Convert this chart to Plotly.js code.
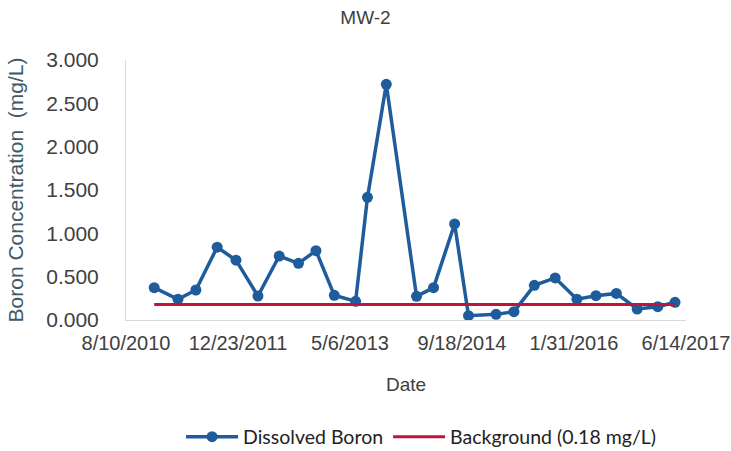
<!DOCTYPE html>
<html>
<head>
<meta charset="utf-8">
<script src="https://cdn.plot.ly/plotly-3.0.1.min.js"></script>
<style>html,body{margin:0;padding:0;background:#fff;}#chart{width:731px;height:451px;}</style>
</head>
<body>
<div id="chart"></div>
<script>
const sampleDates = ['2010-12-14','2011-03-30','2011-06-18','2011-09-21','2011-12-14','2012-03-21','2012-06-24','2012-09-18','2012-12-05','2013-02-25','2013-05-31','2013-07-23','2013-10-15','2014-02-27','2014-05-14','2014-08-16','2014-10-17','2015-02-17','2015-05-08','2015-08-07','2015-11-08','2016-02-13','2016-05-08','2016-08-07','2016-11-08','2017-02-08','2017-04-26'];
const dissolvedBoron = [0.373,0.24,0.346,0.84,0.69,0.277,0.738,0.654,0.80,0.285,0.215,1.415,2.72,0.273,0.373,1.108,0.05,0.065,0.096,0.40,0.485,0.24,0.28,0.307,0.127,0.154,0.204];
const backgroundDates = ['2010-12-14','2017-04-26'];
const backgroundValues = [0.18,0.18];
const xTickVals = ['2010-08-10','2011-12-23','2013-05-06','2014-09-18','2016-01-31','2017-06-14'];
const xTickText = ['8/10/2010','12/23/2011','5/6/2013','9/18/2014','1/31/2016','6/14/2017'];

const FONT = 'Liberation Sans, Arial, sans-serif';
const traces = [
  {x: sampleDates, y: dissolvedBoron, type:'scatter', mode:'lines+markers', name:'Dissolved Boron',
   line:{color:'#1f5c9c', width:3.5}, marker:{color:'#1f5c9c', size:11}},
  {x: backgroundDates, y: backgroundValues, type:'scatter', mode:'lines', name:'Background (0.18 mg/L)',
   line:{color:'#c0143c', width:3}}
];
const layout = {
  width:731, height:451,
  margin:{l:126, r:45, t:60, b:131},
  paper_bgcolor:'#fff', plot_bgcolor:'#fff',
  font:{family:FONT, color:'#404040'},
  title:{text:'MW-2', font:{family:FONT, size:19, color:'#404040'}, x:0.5, xref:'container', y:0.962, yref:'container', yanchor:'middle'},
  xaxis:{type:'date', automargin:false, tickangle:0, range:[xTickVals[0], xTickVals[xTickVals.length-1]], tickvals:xTickVals, ticktext:xTickText,
    showgrid:false, zeroline:false, showline:true, linecolor:'#d9d9d9', linewidth:1, ticks:'',
    tickfont:{family:FONT, size:20, color:'#404040'}, ticklabelstandoff:5,
    title:{text:'Date', font:{family:FONT, size:19, color:'#404040'}, standoff:24}},
  yaxis:{automargin:false, range:[0,3], dtick:0.5, tickformat:'.3f', showgrid:false, zeroline:false, showline:true, linecolor:'#d9d9d9', linewidth:1, ticks:'',
    tickfont:{family:FONT, size:21, color:'#404040'}, ticklabelstandoff:22,
    title:{text:'Boron Concentration\u00a0 (mg/L)', font:{family:FONT, size:21, color:'#3e5a6a'}, standoff:16}},
  showlegend:true,
  legend:{orientation:'h', x:0.576, xanchor:'center', xref:'container', y:0.031, yref:'container', yanchor:'middle', itemwidth:52, font:{family:'Lato, sans-serif', size:19.5, color:'#222'}, tracegroupgap:0}
};
Plotly.newPlot('chart', traces, layout, {displayModeBar:false, staticPlot:true});
</script>
</body>
</html>
